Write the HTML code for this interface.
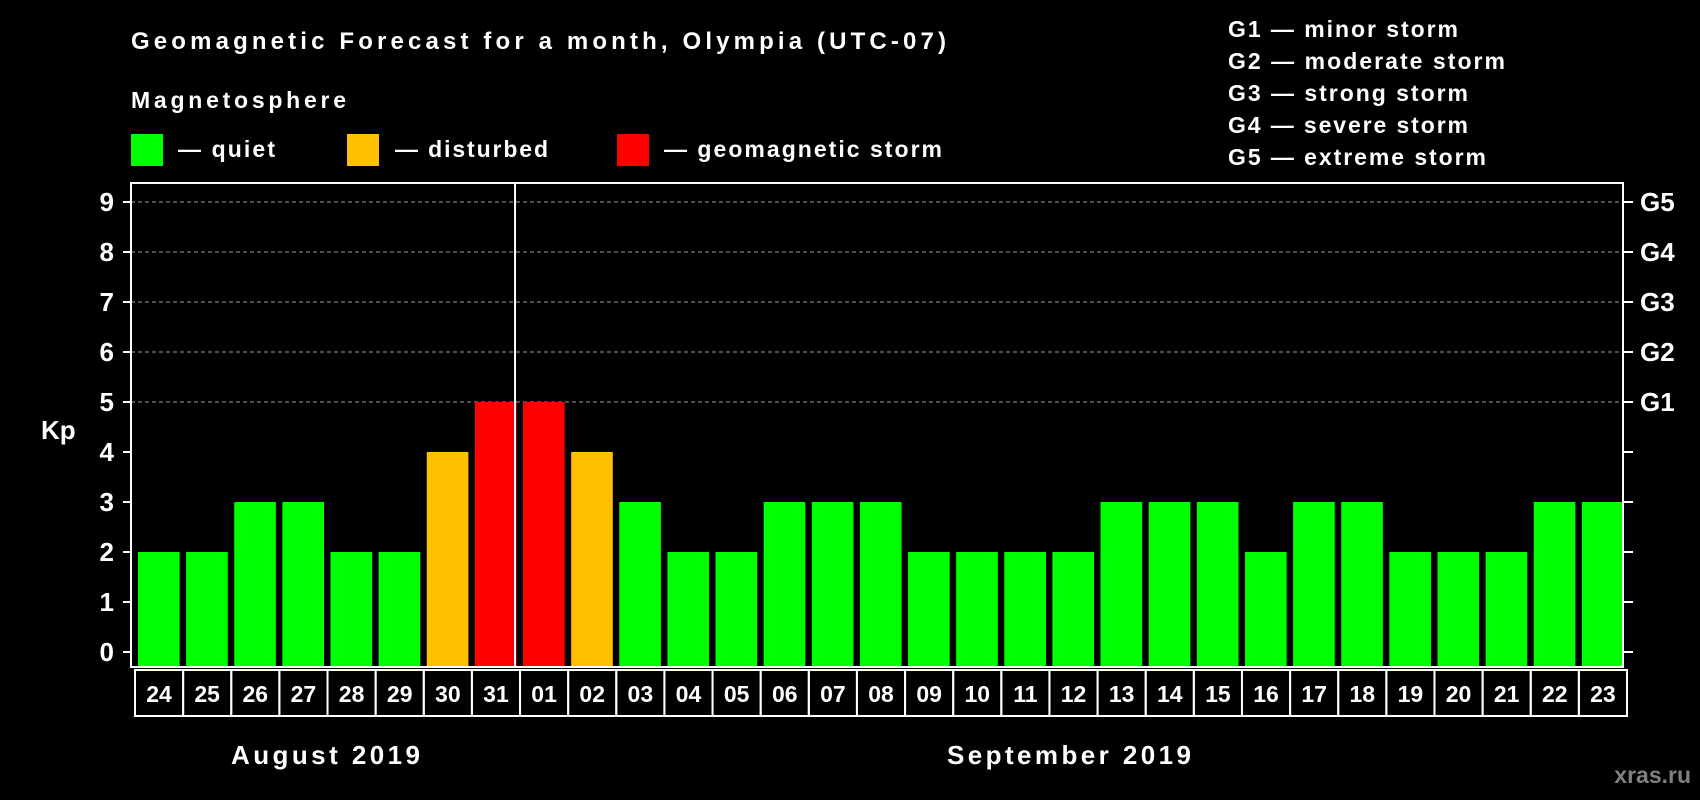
<!DOCTYPE html>
<html><head><meta charset="utf-8"><style>
html,body{margin:0;padding:0;background:#000;}
svg{display:block;font-family:"Liberation Sans",Arial,sans-serif;font-weight:bold;}
</style></head><body>
<svg width="1700" height="800" viewBox="0 0 1700 800">
<rect width="1700" height="800" fill="#000"/>
<text x="131" y="49" fill="#fff" font-size="24" textLength="815">Geomagnetic Forecast for a month, Olympia (UTC-07)</text>
<text x="131" y="108" fill="#fff" font-size="23" textLength="215">Magnetosphere</text>
<rect x="131" y="134" width="32" height="32" fill="#00ff00"/>
<text x="178" y="157" fill="#fff" font-size="23" textLength="97">— quiet</text>
<rect x="347" y="134" width="32" height="32" fill="#ffc000"/>
<text x="395" y="157" fill="#fff" font-size="23" textLength="153">— disturbed</text>
<rect x="617" y="134" width="32" height="32" fill="#ff0000"/>
<text x="664" y="157" fill="#fff" font-size="23" textLength="278">— geomagnetic storm</text>
<g fill="#fff" font-size="23">
<text x="1228" y="37" textLength="230">G1 — minor storm</text>
<text x="1228" y="69" textLength="277">G2 — moderate storm</text>
<text x="1228" y="101" textLength="240">G3 — strong storm</text>
<text x="1228" y="133" textLength="240">G4 — severe storm</text>
<text x="1228" y="165" textLength="258">G5 — extreme storm</text>
</g>
<text x="41" y="439" fill="#fff" font-size="26">Kp</text>
<text x="947" y="764" fill="#fff" font-size="26" textLength="244">September 2019</text>
<text x="231" y="764" fill="#fff" font-size="26" textLength="189">August 2019</text>
<text x="1691" y="783" fill="#808080" font-size="23" text-anchor="end">xras.ru</text>
<g id="plot"></g>
</svg>
<script>
const days = ["24","25","26","27","28","29","30","31","01","02","03","04","05","06","07","08","09","10","11","12","13","14","15","16","17","18","19","20","21","22","23"];
const kpValues = [2,2,3,3,2,2,4,5,5,4,3,2,2,3,3,3,2,2,2,2,3,3,3,2,3,3,2,2,2,3,3];
const yTicks = [0,1,2,3,4,5,6,7,8,9];
const gLabels = ["G1","G2","G3","G4","G5"];
const gLevels = [5,6,7,8,9];
const monthSplitIndex = 8;

const NS = "http://www.w3.org/2000/svg";
const plot = document.getElementById('plot');
const L = 131, R = 1623, T = 183, B = 667;
const slot = (R - L) / days.length;
const y = v => 652 - v * 50;
const xs = i => L + i * slot;
function mk(tag, attrs) {
  const e = document.createElementNS(NS, tag);
  for (const k in attrs) e.setAttribute(k, attrs[k]);
  plot.appendChild(e);
  return e;
}
function color(v) { return v >= 5 ? "#ff0000" : v >= 4 ? "#ffc000" : "#00ff00"; }

yTicks.forEach(t => {
  if (t >= 5) {
    const g = mk('line', {x1: L, x2: R, y1: y(t), y2: y(t), stroke: "#9a9a9a", "stroke-width": 1, "stroke-dasharray": "4,3"});
    
    
  }
  const tk = mk('line', {x1: L - 8, x2: L, y1: y(t), y2: y(t), stroke: "#fff", "stroke-width": 2});
  
  
  const tr = mk('line', {x1: R, x2: R + 10, y1: y(t), y2: y(t), stroke: "#fff", "stroke-width": 2});
  
  
  const lb = mk('text', {x: 114, y: y(t) + 9, fill: "#fff", "font-size": 26, "text-anchor": "end"});
  lb.textContent = t;
  
  
});
gLabels.forEach((g, i) => {
  const lb = mk('text', {x: 1640, y: y(gLevels[i]) + 9, fill: "#fff", "font-size": 26});
  lb.textContent = g;
  
  
});
kpValues.forEach((v, i) => {
  const b = mk('rect', {x: xs(i) + 7, y: y(v), width: slot - 6.5, height: B - y(v), fill: color(v)});
  
  
  const bx = mk('rect', {x: xs(i) + 4, y: 670, width: slot, height: 46, fill: "none", stroke: "#fff", "stroke-width": 2});
  
  
  const t = mk('text', {x: xs(i) + 4 + slot / 2, y: 702, fill: "#fff", "font-size": 23, "text-anchor": "middle"});
  t.textContent = days[i];
  
  
});
const fr = mk('rect', {x: L, y: T, width: R - L, height: B - T, fill: "none", stroke: "#fff", "stroke-width": 2});


const dv = mk('line', {x1: xs(monthSplitIndex) - 1, x2: xs(monthSplitIndex) - 1, y1: T, y2: B, stroke: "#fff", "stroke-width": 2});


</script>
</body></html>
